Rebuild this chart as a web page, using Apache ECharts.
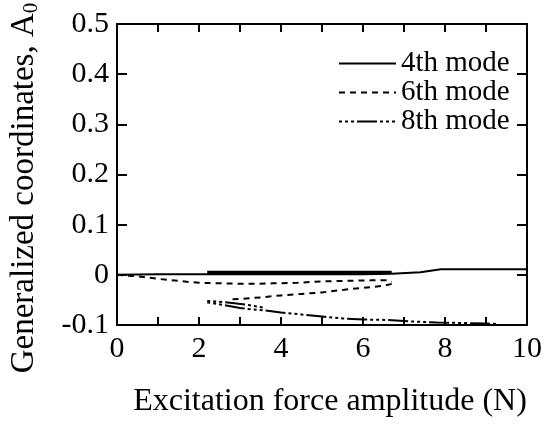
<!DOCTYPE html>
<html>
<head>
<meta charset="utf-8">
<script src="https://cdn.jsdelivr.net/npm/echarts@6/dist/echarts.min.js"></script>
<style>
html,body{margin:0;padding:0;background:#fff;}
#c{width:555px;height:426px;}
</style>
</head>
<body>
<div id="c"></div>
<script>
// ---- data ----
var xTicks = [0, 2, 4, 6, 8, 10];
var yTicks = [-0.1, 0, 0.1, 0.2, 0.3, 0.4, 0.5];

// 4th mode (solid) - sweep up, then return branches
var m4UpX = [0, 1, 2.2, 3, 4, 5, 6, 6.7, 7.4, 7.9, 9, 10];
var m4UpY = [0, 0.001, 0.001, 0.001, 0.001, 0.001, 0.001, 0.002, 0.005, 0.011, 0.011, 0.011];
var m4DnX = [6.7, 5.5, 4.5, 3.5, 2.2];
var m4DnY = [0.006, 0.006, 0.006, 0.006, 0.006];
var m4MidX = [2.2, 3.5, 4.5, 5.5, 6.7];
var m4MidY = [0.0035, 0.0035, 0.0035, 0.0035, 0.0035];

// 6th mode (dashed)
var m6UpX = [0, 0.5, 1.0, 1.6, 2.0, 2.6, 3.2, 3.8, 4.4, 5.0, 5.6, 6.2, 6.6, 6.7];
var m6UpY = [0, -0.003, -0.008, -0.013, -0.016, -0.017, -0.018, -0.017, -0.016, -0.013, -0.012, -0.011, -0.011, -0.014];
var m6DnX = [6.7, 6.5, 6.0, 5.5, 5.0, 4.5, 4.0, 3.5, 3.0, 2.7];
var m6DnY = [-0.018, -0.022, -0.026, -0.030, -0.035, -0.038, -0.041, -0.045, -0.048, -0.049];

// 8th mode (dash-dot)
var m8X = [2.2, 2.6, 3.0, 3.3, 3.6, 4.0, 4.5, 5.0, 5.5, 6.0, 6.6, 7.2, 7.8, 8.4, 9.0, 9.3];
var m8Y = [-0.055, -0.060, -0.066, -0.069, -0.071, -0.075, -0.079, -0.083, -0.087, -0.089, -0.090, -0.093, -0.095, -0.096, -0.097, -0.098];
var m8bX = [2.2, 2.7, 3.2, 3.6];
var m8bY = [-0.052, -0.055, -0.060, -0.066];

var xTitle = 'Excitation force amplitude (N)';
var yTitle = 'Generalized coordinates, A';
var yTitleSub = '0';
var legendNames = ['4th mode', '6th mode', '8th mode'];

function pairs(xs, ys){ return xs.map(function(x,i){ return [x, ys[i]]; }); }
function joinBranches(){ // joins branches with a gap
  var out = [];
  for (var i = 0; i < arguments.length; i++) {
    if (i > 0) out.push(['-', '-']);
    out = out.concat(arguments[i]);
  }
  return out;
}

var FONT = '"Liberation Serif", "Times New Roman", serif';
var chart = echarts.init(document.getElementById('c'), null, {renderer: 'canvas'});

var axisLine = {show: true, onZero: false, lineStyle: {color: '#000', width: 2}};
function xAx(pos, labels){
  return {
    type: 'value', position: pos, min: 0, max: 10, interval: 2,
    axisLine: axisLine,
    axisTick: {show: true, inside: true, length: 8, lineStyle: {color: '#000', width: 2}},
    minorTick: {show: true, splitNumber: 2, length: 8, lineStyle: {color: '#000', width: 2}},
    splitLine: {show: false}, minorSplitLine: {show: false},
    axisLabel: {show: labels, color: '#000', fontFamily: FONT, fontSize: 30, margin: 9,
      formatter: function(v){ return xTicks.indexOf(v) >= 0 ? String(v) : ''; }}
  };
}
function yAx(pos, labels){
  return {
    type: 'value', position: pos, min: -0.1, max: 0.5, interval: 0.1,
    axisLine: axisLine,
    axisTick: {show: true, inside: true, length: 10, lineStyle: {color: '#000', width: 2}},
    splitLine: {show: false},
    axisLabel: {show: labels, color: '#000', fontFamily: FONT, fontSize: 30, margin: 8,
      formatter: function(v){ var r = Math.round(v*10)/10; return r === 0 ? '0' : r.toFixed(1); }}
  };
}

var lw = 2;
var dash6 = [6, 5];
var dash8 = [3, 3, 3, 3, 3, 3, 20, 3];

chart.setOption({
  animation: false,
  backgroundColor: '#fff',
  grid: {left: 117, right: 28, top: 24, bottom: 101, containLabel: false},
  xAxis: [xAx('bottom', true), xAx('top', false)],
  yAxis: [yAx('left', true), yAx('right', false)],
  legend: {
    show: true, orient: 'vertical', left: 338, top: 49, itemGap: 0, padding: 0,
    itemWidth: 57, itemHeight: 14,
    itemStyle: {opacity: 0},
    textStyle: {color: '#000', fontFamily: FONT, fontSize: 29, lineHeight: 27.5},
    data: legendNames
  },
  series: [
    {name: legendNames[0], type: 'line', showSymbol: false, symbol: 'none', connectNulls: false,
      lineStyle: {color: '#000', width: lw, type: 'solid'}, itemStyle: {color: '#000'},
      data: joinBranches(pairs(m4UpX, m4UpY), pairs(m4DnX, m4DnY), pairs(m4MidX, m4MidY))},
    {name: legendNames[1], type: 'line', showSymbol: false, symbol: 'none', connectNulls: false,
      lineStyle: {color: '#000', width: lw, type: dash6}, itemStyle: {color: '#000'},
      data: joinBranches(pairs(m6UpX, m6UpY), pairs(m6DnX, m6DnY))},
    {name: legendNames[2], type: 'line', showSymbol: false, symbol: 'none', connectNulls: false,
      lineStyle: {color: '#000', width: lw, type: dash8}, itemStyle: {color: '#000'},
      data: joinBranches(pairs(m8X, m8Y), pairs(m8bX, m8bY))}
  ],
  graphic: [{
    type: 'text', x: 24, y: 188, rotation: Math.PI / 2,
    style: {
      text: yTitle + '{sub|' + yTitleSub + '}',
      fill: '#000', font: '33px ' + FONT,
      align: 'center', verticalAlign: 'middle',
      rich: {sub: {fontSize: 21, fontFamily: FONT, fill: '#000', padding: [14, 0, 0, 0]}}
    }
  }, {
    type: 'text', x: 330, y: 402,
    style: {
      text: xTitle, fill: '#000', font: '32px ' + FONT,
      align: 'center', verticalAlign: 'middle'
    }
  }]
});
</script>
</body>
</html>
